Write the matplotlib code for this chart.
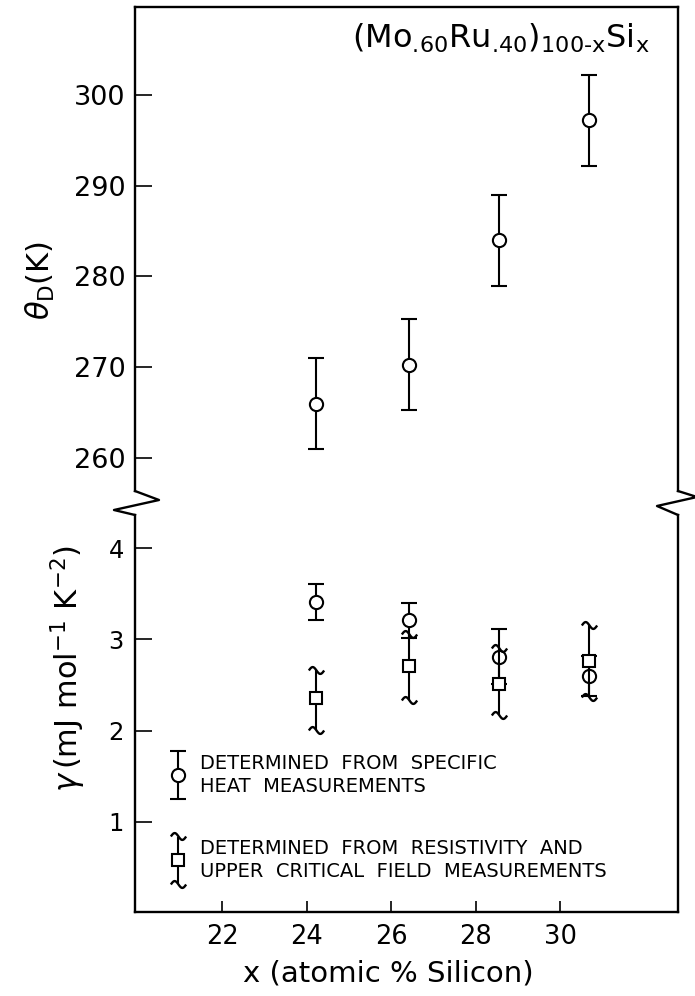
import numpy as np
import matplotlib
matplotlib.use("Agg")
import matplotlib.pyplot as plt
from matplotlib.lines import Line2D
from matplotlib.path import Path

# ---------------------- Data ----------------------
x_pts = [24.23, 26.41, 28.54, 30.68]          # atomic % Si (as plotted)

theta_D = [266.0, 270.3, 284.0, 297.2]         # K
theta_err = [5.0, 5.0, 5.0, 5.0]

gamma_heat = [3.41, 3.21, 2.81, 2.60]          # mJ mol-1 K-2, specific heat
gamma_heat_err = [0.20, 0.19, 0.30, 0.22]

gamma_res = [2.36, 2.71, 2.51, 2.76]           # resistivity + Hc2
gamma_res_up = [0.30, 0.35, 0.39, 0.40]
gamma_res_dn = [0.35, 0.37, 0.34, 0.39]

xticks = [22, 24, 26, 28, 30]
theta_ticks = [260, 270, 280, 290, 300]
gamma_ticks = [1, 2, 3, 4]

# ---------------------- Layout helpers (pixels -> figure) ----------------------
W, H = 695, 996
def fx(px): return px / W
def fy(py): return 1 - py / H

LEFT, RIGHT = 135, 678
fig = plt.figure(figsize=(W / 100, H / 100), dpi=100)
ax1 = fig.add_axes([fx(LEFT), fy(491), fx(RIGHT) - fx(LEFT), fy(7) - fy(491)])
ax2 = fig.add_axes([fx(LEFT), fy(912), fx(RIGHT) - fx(LEFT), fy(515) - fy(912)])

LW = 1.7
t = np.linspace(-1, 1, 25)
tilde = Path(np.column_stack([t, -0.45 * np.sin(np.pi * t)]))

# ---------------------- Upper panel: Debye temperature ----------------------
ax1.errorbar(x_pts, theta_D, yerr=theta_err, fmt='o', ms=9.5, mfc='white', mec='k',
             mew=1.5, ecolor='k', elinewidth=1.5, capsize=6, capthick=1.6)
ax1.set_xlim(19.94, 32.78)
ax1.set_ylim(256.36, 309.7)
ax1.set_yticks(theta_ticks)
ax1.set_xticks([])
ax1.spines['bottom'].set_visible(False)
ax1.tick_params(axis='y', direction='in', length=12, width=1.2, pad=7, labelsize=19.5)
ax1.set_ylabel(r'$\theta_{\rm D}\mathrm{(K)}$', fontsize=22)
ax1.yaxis.set_label_coords(-0.143, 0.436)

ax1.text(fx(352), fy(48),
         r'$(\mathrm{Mo}_{\text{.60}}\mathrm{Ru}_{\text{.40}})_{\text{100-x}}\mathrm{Si}_{\text{x}}$',
         transform=fig.transFigure, fontsize=23, ha='left', va='baseline')

# ---------------------- Lower panel: gamma ----------------------
ax2.errorbar(x_pts, gamma_heat, yerr=gamma_heat_err, fmt='o', ms=9.5, mfc='white', mec='k',
             mew=1.5, ecolor='k', elinewidth=1.5, capsize=6, capthick=1.6, zorder=3)
ax2.errorbar(x_pts, gamma_res, yerr=[gamma_res_dn, gamma_res_up], fmt='s', ms=8.5,
             mfc='white', mec='k', mew=1.5, ecolor='k', elinewidth=1.5, capsize=0, zorder=4)
ax2.plot(x_pts, np.array(gamma_res) + np.array(gamma_res_up), ls='none', marker=tilde,
         ms=11, mfc='none', mec='k', mew=1.7, zorder=4)
ax2.plot(x_pts, np.array(gamma_res) - np.array(gamma_res_dn), ls='none', marker=tilde,
         ms=11, mfc='none', mec='k', mew=1.7, zorder=4)

ax2.set_xlim(19.94, 32.78)
ax2.set_ylim(0.014, 4.362)
ax2.set_yticks(gamma_ticks)
ax2.set_xticks(xticks)
ax2.spines['top'].set_visible(False)
ax2.tick_params(axis='y', direction='in', length=12, width=1.2, pad=8, labelsize=17.5)
ax2.tick_params(axis='x', direction='in', length=8, width=1.2, pad=9, labelsize=18.5)
ax2.set_xlabel('x (atomic % Silicon)', fontsize=21)
ax2.xaxis.set_label_coords(0.466, -0.12)
ax2.set_ylabel(r'$\gamma\,(\mathrm{mJ\ mol^{-1}\ K^{-2}})$', fontsize=22)
ax2.yaxis.set_label_coords(-0.087, 0.612)

for ax in (ax1, ax2):
    for s in ax.spines.values():
        s.set_linewidth(LW)

# legend keys, drawn by hand
kx = (178 - LEFT) / (RIGHT - LEFT)
ax2.errorbar([kx], [0.345], yerr=[0.06], fmt='o', ms=9.5, mfc='white', mec='k', mew=1.5,
             ecolor='k', elinewidth=1.5, capsize=6, capthick=1.6, transform=ax2.transAxes,
             clip_on=False)
ax2.errorbar([kx], [0.131], yerr=[0.058], fmt='s', ms=8.5, mfc='white', mec='k', mew=1.5,
             ecolor='k', elinewidth=1.5, capsize=0, transform=ax2.transAxes)
ax2.plot([kx, kx], [0.131 + 0.06, 0.131 - 0.06], ls='none', marker=tilde, ms=11, mfc='none',
         mec='k', mew=1.7, transform=ax2.transAxes)

tx = (200 - LEFT) / (RIGHT - LEFT)
ax2.text(tx, 0.345, 'DETERMINED  FROM  SPECIFIC\nHEAT  MEASUREMENTS', transform=ax2.transAxes,
         fontsize=14, ha='left', va='center', linespacing=1.3)
ax2.text(tx, 0.131, 'DETERMINED  FROM  RESISTIVITY  AND\nUPPER  CRITICAL  FIELD  MEASUREMENTS',
         transform=ax2.transAxes, fontsize=14, ha='left', va='center', linespacing=1.3)

# ---------------------- Axis break zigzags ----------------------
zig_left = [(135, 491), (159, 500), (114, 510), (135, 515)]
zig_right = [(678, 491), (697, 497), (657, 506), (678, 515)]
for zz in (zig_left, zig_right):
    fig.add_artist(Line2D([fx(p[0]) for p in zz], [fy(p[1]) for p in zz],
                          transform=fig.transFigure, color='k', lw=LW))

plt.savefig('out.png', dpi=100)
